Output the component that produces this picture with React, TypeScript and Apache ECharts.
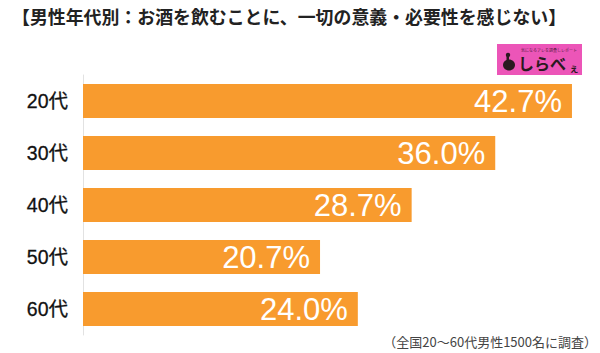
import React, { useEffect, useRef } from "react";
import * as echarts from "echarts";

const categories = ["20代", "30代", "40代", "50代", "60代"];
const values = [42.7, 36.0, 28.7, 20.7, 24.0];
const titleText = "【男性年代別：お酒を飲むことに、一切の意義・必要性を感じない】";
const noteText = "（全国20～60代男性1500名に調査）";

export default function App() {
  const ref = useRef<HTMLDivElement>(null);
  useEffect(() => {
    if (!ref.current) return;
    const chart = echarts.init(ref.current, null, { renderer: "svg" });
    chart.setOption({
      animation: false,
      backgroundColor: "#ffffff",
      grid: { left: 83, top: 75, width: 515.3, height: 260, containLabel: false },
      xAxis: {
        type: "value",
        min: 0,
        max: 45,
        show: false,
      },
      yAxis: {
        type: "category",
        inverse: true,
        data: categories,
        axisLine: { show: true, lineStyle: { color: "#e2e2e2", width: 1 } },
        axisTick: { show: false },
        axisLabel: {
          color: "#111",
          fontSize: 19.5,
          margin: 15,
          fontFamily: "Liberation Sans, Noto Sans CJK JP, sans-serif",
          textBorderColor: "#111",
          textBorderWidth: 0.3,
        },
      },
      series: [
        {
          type: "bar",
          data: values,
          barWidth: 34,
          itemStyle: { color: "#F89B2E" },
          label: {
            show: true,
            position: "insideRight",
            distance: 10,
            color: "#ffffff",
            fontSize: 31,
            fontFamily: "Liberation Sans, Arial, sans-serif",
            formatter: (p: any) => p.value.toFixed(1) + "%",
          },
        },
      ],
      graphic: [
        {
          type: "text",
          left: 12,
          top: 7,
          style: {
            text: titleText,
            fontSize: 17.9,
            fontWeight: "bold",
            fill: "#222",
            fontFamily: "Noto Sans CJK JP, sans-serif",
          },
        },
        {
          type: "text",
          right: 3,
          top: 335,
          style: {
            text: noteText,
            fontSize: 13,
            fill: "#444",
            fontFamily: "Noto Sans CJK JP, sans-serif",
          },
        },
        {
          type: "group",
          left: 497,
          top: 44,
          children: [
            { type: "rect", shape: { x: 0, y: 0, width: 85, height: 31 }, style: { fill: "#EC55B8" } },
            {
              type: "text",
              x: 24,
              y: 4,
              style: { text: "気になるアレを調査しレポート", fontSize: 4, fill: "#5a2045", fontFamily: "Noto Sans CJK JP" },
            },
            { type: "circle", shape: { cx: 11, cy: 11, r: 2.2 }, style: { fill: "#2a1a20" } },
            {
              type: "ellipse",
              shape: { cx: 12, cy: 21, rx: 6, ry: 5.5 },
              style: { fill: "#2a1a20" },
            },
            {
              type: "rect",
              shape: { x: 9.5, y: 12, width: 2.5, height: 9 },
              style: { fill: "#2a1a20" },
            },
            { type: "text", x: 21, y: 11, style: { text: "し", fontSize: 16, fontWeight: "bold", fill: "#2a1a20", fontFamily: "Noto Sans CJK JP" } },
            { type: "text", x: 37, y: 11, style: { text: "ら", fontSize: 16, fontWeight: "bold", fill: "#2a1a20", fontFamily: "Noto Sans CJK JP" } },
            { type: "text", x: 53, y: 11, style: { text: "べ", fontSize: 16, fontWeight: "bold", fill: "#2a1a20", fontFamily: "Noto Sans CJK JP" } },
            { type: "text", x: 72, y: 18, style: { text: "ぇ", fontSize: 10, fontWeight: "bold", fill: "#2a1a20", fontFamily: "Noto Sans CJK JP" } },
          ],
        },
      ],
    });
    return () => chart.dispose();
  }, []);
  return (
    <div
      ref={ref}
      style={{ position: "fixed", left: 0, top: 0, width: 600, height: 353 }}
    />
  );
}
